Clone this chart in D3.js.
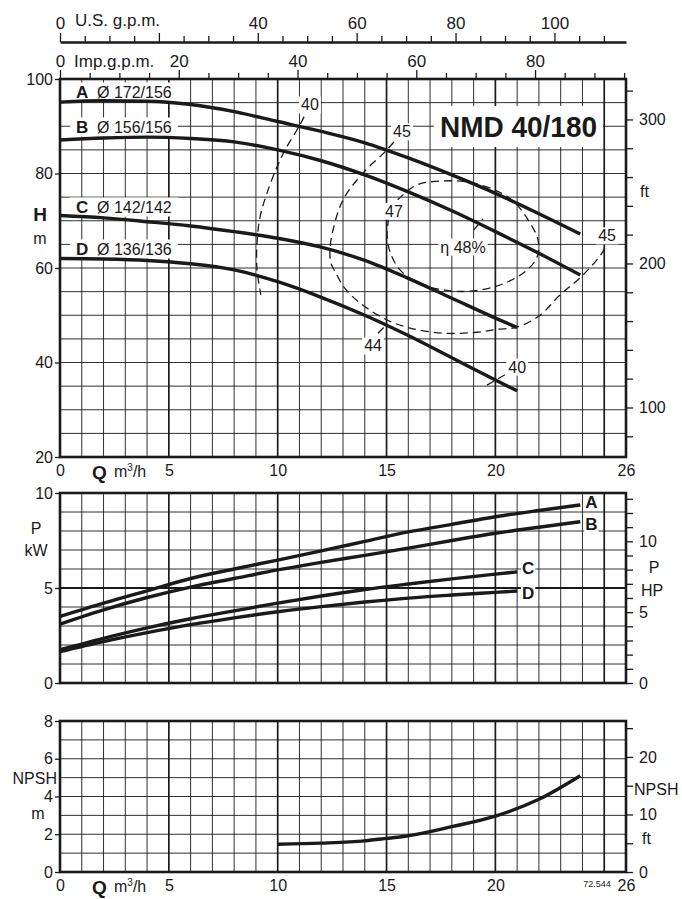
<!DOCTYPE html>
<html>
<head>
<meta charset="utf-8">
<script src="https://cdn.jsdelivr.net/npm/d3@7"></script>
<style>
body { margin: 0; background: #fff; }
svg text { font-family: "Liberation Sans", Arial, sans-serif; fill: #1a1a1a; }
</style>
</head>
<body>
<svg id="vis" width="682" height="899"></svg>
<script>
// flow axis (m3/h) and the two gpm scales on top
var qTicks = [0, 5, 10, 15, 20, 26];
var usGpmLabels = [40, 60, 80, 100];
var impGpmLabels = [20, 40, 60, 80];

// head curves, [Q m3/h, H m]
var headA = [[0,95.1],[2,95.4],[4,95.3],[6,94.6],[8,93.1],[10,91.0],[12,88.9],[14,86.5],[16,83.3],[18,79.7],[20,75.8],[22,71.5],[23.9,67.2]];
var headB = [[0,87.1],[2,87.5],[4,87.7],[6,87.4],[8,86.7],[10,85.0],[12,82.7],[14,79.7],[16,76.1],[18,72.1],[20,67.7],[22,63.1],[23.9,58.5]];
var headC = [[0,71.1],[2,70.6],[4,69.8],[6,68.9],[8,67.7],[10,66.3],[12,64.4],[14,61.6],[16,57.8],[18,53.6],[20,49.4],[21,47.4]];
var headD = [[0,62.0],[2,61.9],[4,61.6],[6,60.9],[8,59.6],[10,57.1],[12,53.8],[14,50.0],[16,45.7],[18,41.0],[20,36.3],[21,34.0]];
var curveNames = ["A", "B", "C", "D"];
var curveDiams = ["Ø 172/156", "Ø 156/156", "Ø 142/142", "Ø 136/136"];

// efficiency iso-lines, [Q, H]
var eta40 = [[11.48,94.5],[11.02,90.3],[10.34,85.0],[9.97,81.4],[9.51,75.9],[9.19,70.8],[9.05,65.3],[9.05,59.6],[9.23,54.3]];
var eta45 = [[15.71,88.8],[15.02,85.0],[13.92,80.1],[13.0,74.4],[12.54,68.0],[12.4,63.8],[12.45,61.0],[12.68,58.9],[13.05,55.9],[13.78,52.6],[15.02,49.0],[16.08,47.3],[17.59,46.2],[19.15,46.4],[20.07,47.0],[20.99,47.5],[22.05,50.0],[22.97,54.3],[24.02,58.5],[25.03,64.2],[25.13,66.8]];
var eta47 = [[15.07,69.5],[15.2,72.6],[15.76,75.5],[16.4,77.6],[17.46,78.4],[18.7,78.2],[19.98,76.5],[20.81,74.2],[21.5,70.2],[21.96,65.9],[21.91,62.3],[21.36,59.2],[20.21,56.4],[18.83,55.1],[17.69,55.3],[16.54,56.6],[15.62,59.6],[15.16,63.4],[15.02,67.0],[15.07,69.5]];
var eta44Mark = [[14.61,46.2],[14.97,47.9]];
var eta40Mark = [[19.61,35.2],[20.44,37.4]];
var eta48Mark = [[19.0,68.0],[19.43,70.4]];
// [label, Q, H]
var etaLabels = [["40",11.48,94.5],["45",15.71,88.8],["47",15.34,72.0],["45",25.13,66.8],["44",14.38,43.5],["40",21.0,39.0]];

// power curves, [Q, kW]
var powerA = [[0,3.5],[2,4.2],[4,4.85],[6,5.5],[8,6.0],[10,6.47],[12,6.95],[14,7.45],[16,7.95],[18,8.35],[20,8.75],[22,9.08],[23.9,9.37]];
var powerB = [[0,3.1],[2,3.85],[4,4.5],[6,5.05],[8,5.5],[10,5.95],[12,6.35],[14,6.72],[16,7.1],[18,7.5],[20,7.88],[22,8.2],[23.9,8.49]];
var powerC = [[0,1.75],[2,2.35],[4,2.9],[6,3.38],[8,3.8],[10,4.2],[12,4.58],[14,4.92],[16,5.21],[18,5.48],[20,5.73],[21,5.85]];
var powerD = [[0,1.65],[2,2.18],[4,2.65],[6,3.07],[8,3.43],[10,3.75],[12,4.02],[14,4.26],[16,4.47],[18,4.63],[20,4.77],[21,4.84]];
var powerLabelShift = [-2, 3, -3, 2];

// NPSH required, [Q, m]
var npsh = [[10,1.47],[12,1.53],[14,1.65],[15,1.78],[16,1.92],[18,2.4],[20,2.96],[22,3.85],[23.9,5.1]];

var svg = d3.select("#vis");
var gridLayer = svg.append("g");
var dashLayer = svg.append("g");
var bgLayer = svg.append("g");
var curveLayer = svg.append("g");
var textLayer = svg.append("g");

var x = d3.scaleLinear().domain([0, 26]).range([60, 626]);
var yH = d3.scaleLinear().domain([20, 100]).range([457, 79]);
var yP = d3.scaleLinear().domain([0, 10]).range([683, 493]);
var yN = d3.scaleLinear().domain([0, 8]).range([872, 721]);

var INK = "#1a1a1a";

function grid(y, step, thickH) {
	var d = y.domain();
	var g = gridLayer.append("g");
	g.selectAll(".v")
	 .data(d3.range(1, 26))
	 .enter().append("line")
	 .attr("x1", q => x(q)).attr("x2", q => x(q))
	 .attr("y1", y(d[0])).attr("y2", y(d[1]))
	 .attr("stroke", INK)
	 .attr("stroke-width", q => q % 5 == 0 ? 1.7 : 0.9);
	g.selectAll(".h")
	 .data(d3.range(d[0] + step, d[1] - step / 2, step))
	 .enter().append("line")
	 .attr("x1", x(0)).attr("x2", x(26))
	 .attr("y1", v => y(v)).attr("y2", v => y(v))
	 .attr("stroke", INK)
	 .attr("stroke-width", v => thickH.indexOf(v) >= 0 ? 1.8 : 0.9);
	// frame goes on top of label backgrounds
	curveLayer.append("rect")
	 .attr("x", x(0)).attr("y", y(d[1]))
	 .attr("width", x(26) - x(0)).attr("height", y(d[0]) - y(d[1]))
	 .attr("fill", "none").attr("stroke", INK).attr("stroke-width", 2.6);
}

function styleAxis(g, size) {
	g.attr("font-family", null).attr("font-size", size);
	g.selectAll("line").attr("stroke", INK).attr("stroke-width", 1.3);
	g.selectAll("text").attr("fill", INK);
}

function leftAxis(y, values, size) {
	textLayer.append("g")
	   .attr("transform", "translate(" + x(0) + ",0)")
	   .call(d3.axisLeft(y).tickValues(values).tickSize(5).tickPadding(2))
	   .call(g => g.select(".domain").remove())
	   .call(g => styleAxis(g, size));
}

function rightAxis(scale, values, labelled, size) {
	textLayer.append("g")
	   .attr("transform", "translate(" + x(26) + ",0)")
	   .call(d3.axisRight(scale).tickValues(values).tickSize(7).tickPadding(6)
	           .tickFormat(v => labelled.indexOf(v) >= 0 ? v : ""))
	   .call(g => g.select(".domain").remove())
	   .call(g => styleAxis(g, size));
}

function bottomAxis(y0) {
	textLayer.append("g")
	   .attr("transform", "translate(0," + y0 + ")")
	   .call(d3.axisBottom(x).tickValues(qTicks).tickSize(0).tickPadding(8))
	   .call(g => g.select(".domain").remove())
	   .call(g => styleAxis(g, 16));
	textLayer.append("text").attr("x", 92).attr("y", y0 + 22)
	   .attr("font-size", 19).attr("font-weight", "bold").text("Q");
	var t = textLayer.append("text").attr("x", 114).attr("y", y0 + 20).attr("font-size", 16);
	t.append("tspan").text("m");
	t.append("tspan").attr("font-size", 10).attr("dy", -6).text("3");
	t.append("tspan").attr("dy", 6).text("/h");
}

function txt(cx, cy, s, size, bold, anchor) {
	return textLayer.append("text")
	          .attr("x", cx).attr("y", cy)
	          .attr("dominant-baseline", "central")
	          .attr("text-anchor", anchor || "middle")
	          .attr("font-size", size)
	          .attr("font-weight", bold ? "bold" : null)
	          .text(s);
}

function whiteBehind(sel, padX, padY, minX) {
	var b = sel.node().getBBox();
	var x0 = Math.max(b.x - padX, minX || 0);
	bgLayer.append("rect")
	   .attr("x", x0).attr("y", b.y - padY)
	   .attr("width", b.x + b.width + padX - x0).attr("height", b.height + 2 * padY)
	   .attr("fill", "#fff");
}

// ---------- top gpm scales ----------
var xUS = d3.scaleLinear().domain([0, 26 * 4.402868]).range([60, 626]);
var xImp = d3.scaleLinear().domain([0, 26 * 3.666154]).range([60, 626]);

var usAxis = textLayer.append("g")
	.attr("transform", "translate(0,42)")
	.call(d3.axisTop(xUS).tickValues(d3.range(0, 115, 5)).tickSize(6).tickSizeOuter(0)
	        .tickFormat(v => (v == 0 || usGpmLabels.indexOf(v) >= 0) ? v : ""))
	.call(g => styleAxis(g, 17));
usAxis.select(".domain").attr("stroke", INK).attr("stroke-width", 2.6);
usAxis.selectAll(".tick line").attr("y2", v => v % 20 == 0 ? -9 : -6);
usAxis.selectAll(".tick text").attr("y", -13);
textLayer.append("text").attr("x", 75).attr("y", 26).attr("font-size", 17).text("U.S. g.p.m.");

var impAxis = textLayer.append("g")
	.attr("transform", "translate(0,79)")
	.call(d3.axisTop(xImp).tickValues(d3.range(0, 96, 5)).tickSize(6).tickSizeOuter(0)
	        .tickFormat(v => (v == 0 || impGpmLabels.indexOf(v) >= 0) ? v : ""))
	.call(g => styleAxis(g, 17));
impAxis.select(".domain").remove();
impAxis.selectAll(".tick line").attr("y2", v => v % 20 == 0 ? -9 : -6);
impAxis.selectAll(".tick text").attr("y", -12);
textLayer.append("text").attr("x", 74).attr("y", 67).attr("font-size", 17).text("Imp.g.p.m.");

// ---------- head chart ----------
grid(yH, 5, []);
leftAxis(yH, [20, 40, 60, 80, 100], 16);
var yFt = d3.scaleLinear().domain([20 / 0.3048, 100 / 0.3048]).range([457, 79]);
rightAxis(yFt, d3.range(80, 330, 20), [100, 200, 300], 16);
txt(640, yFt(250), "ft", 16, false, "start");
txt(40, 214, "H", 19, true);
txt(40, 238, "m", 16);
bottomAxis(457);

var smooth = d3.line().x(d => x(d[0])).y(d => yH(d[1])).curve(d3.curveMonotoneX);
var loop = d3.line().x(d => x(d[0])).y(d => yH(d[1])).curve(d3.curveCatmullRom.alpha(0.5));

[eta40, eta45, eta47, eta44Mark, eta40Mark, eta48Mark].forEach(function(pts) {
	dashLayer.append("path")
	   .attr("d", loop(pts))
	   .attr("fill", "none").attr("stroke", INK)
	   .attr("stroke-width", 1.3).attr("stroke-dasharray", "8,5");
});

[headA, headB, headC, headD].forEach(function(pts) {
	curveLayer.append("path")
	   .attr("d", smooth(pts))
	   .attr("fill", "none").attr("stroke", INK)
	   .attr("stroke-width", 3.4).attr("stroke-linecap", "butt");
});

etaLabels.forEach(function(l) {
	var t = txt(x(l[1]), yH(l[2]), l[0], 16);
	whiteBehind(t, 2, 0);
});
var etaMain = txt(463, 247, "η 48%", 16);
whiteBehind(etaMain, 2, 0);

// diameter legend
var legendY = [92, 127, 207, 249];
curveNames.forEach(function(n, i) {
	var t = textLayer.append("text").attr("y", legendY[i]).attr("dominant-baseline", "central").attr("font-size", 16);
	t.append("tspan").attr("x", 76).attr("font-weight", "bold").attr("font-size", 17).text(n);
	t.append("tspan").attr("x", 97).text(curveDiams[i]);
	whiteBehind(t, 6, 0, 62);
});

var title = textLayer.append("text")
	.attr("x", 440).attr("y", 137)
	.attr("font-size", 30).attr("font-weight", "bold")
	.attr("textLength", 157).attr("lengthAdjust", "spacingAndGlyphs")
	.text("NMD 40/180");
whiteBehind(title, 6, 4);

// ---------- power chart ----------
grid(yP, 1, [5]);
leftAxis(yP, [0, 5, 10], 16);
var yHp = d3.scaleLinear().domain([0, 10 / 0.7457]).range([683, 493]);
rightAxis(yHp, d3.range(0, 14, 1), [0, 5, 10], 16);
txt(654, 567, "P", 16);
txt(652, 590, "HP", 16);
txt(36, 528, "P", 16);
txt(36, 550, "kW", 16);

var pLine = d3.line().x(d => x(d[0])).y(d => yP(d[1])).curve(d3.curveMonotoneX);
[powerA, powerB, powerC, powerD].forEach(function(pts, i) {
	curveLayer.append("path")
	   .attr("d", pLine(pts))
	   .attr("fill", "none").attr("stroke", INK).attr("stroke-width", 3.4);
	var last = pts[pts.length - 1];
	var t = txt(x(last[0]) + 11, yP(last[1]) + powerLabelShift[i], curveNames[i], 17, true);
	whiteBehind(t, 1, -2);
});

// ---------- NPSH chart ----------
grid(yN, 1, []);
leftAxis(yN, [0, 2, 4, 6, 8], 16);
var yNft = d3.scaleLinear().domain([0, 8 / 0.3048]).range([872, 721]);
rightAxis(yNft, d3.range(0, 30, 5), [0, 10, 20], 16);
txt(634, 789, "NPSH", 16, false, "start");
txt(642, 838, "ft", 16, false, "start");
txt(57, 778, "NPSH", 16, false, "end");
txt(38, 813, "m", 16);
bottomAxis(872);
txt(597, 884, "72.544", 9);

var nLine = d3.line().x(d => x(d[0])).y(d => yN(d[1])).curve(d3.curveMonotoneX);
curveLayer.append("path")
   .attr("d", nLine(npsh))
   .attr("fill", "none").attr("stroke", INK).attr("stroke-width", 3.4);
</script>
</body>
</html>
